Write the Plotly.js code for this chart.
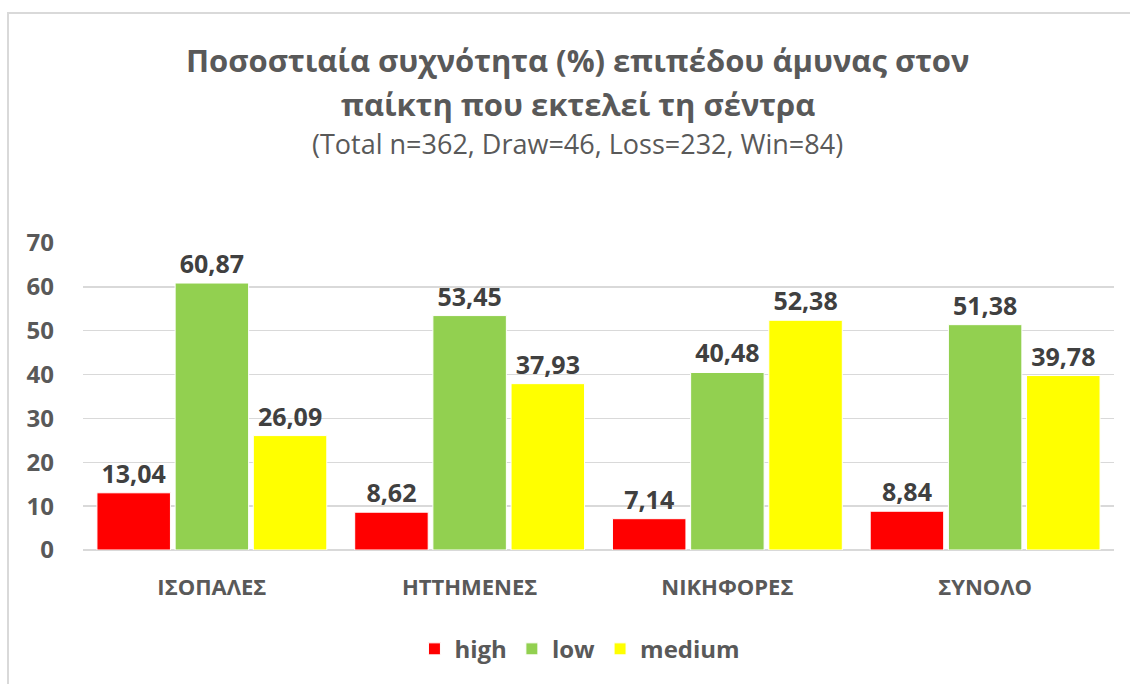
<!DOCTYPE html>
<html>
<head>
<meta charset="utf-8">
<script src="https://cdn.plot.ly/plotly-3.0.1.min.js"></script>
<style>
html,body{margin:0;padding:0;background:#fff;}
#frame{position:absolute;left:7px;top:12px;width:1140px;height:700px;border-top:2px solid #d9d9d9;border-left:2px solid #d9d9d9;box-sizing:border-box;}
#chart{position:absolute;left:0;top:0;width:1130px;height:684px;}
</style>
</head>
<body>
<div id="frame"></div>
<div id="chart"></div>
<script>
const categories = ["ΙΣΟΠΑΛΕΣ", "ΗΤΤΗΜΕΝΕΣ", "ΝΙΚΗΦΟΡΕΣ", "ΣΥΝΟΛΟ"];
const high = [13.04, 8.62, 7.14, 8.84];
const low = [60.87, 53.45, 40.48, 51.38];
const medium = [26.09, 37.93, 52.38, 39.78];
const seriesNames = ["high", "low", "medium"];
const seriesColors = ["#FF0000", "#92D050", "#FFFF00"];
const yTicks = [0, 10, 20, 30, 40, 50, 60, 70];
const titleLine1 = "Ποσοστιαία συχνότητα (%) επιπέδου άμυνας στον";
const titleLine2 = "παίκτη που εκτελεί τη σέντρα";
const subtitle = "(Total n=362, Draw=46, Loss=232, Win=84)";

const FONT = "'Open Sans', sans-serif";
const GRAY = "#595959";

const seriesValues = [high, low, medium];
const traces = seriesValues.map((vals, i) => ({
  type: "bar",
  name: seriesNames[i],
  x: categories,
  y: vals,
  marker: {color: seriesColors[i], line: {color: "#ffffff", width: 1}},
  texttemplate: "%{y:.2f}",
  textposition: "outside",
  cliponaxis: false,
  textfont: {family: FONT, size: 25, color: "#404040", weight: 700},
  hoverinfo: "none"
}));

const layout = {
  width: 1130,
  height: 684,
  paper_bgcolor: "rgba(0,0,0,0)",
  plot_bgcolor: "rgba(0,0,0,0)",
  separators: ",.",
  margin: {l: 83, r: 16, t: 243, b: 131},
  barmode: "group",
  bargap: 0.09,
  bargroupgap: 0.06,
  font: {family: FONT, color: GRAY},
  xaxis: {
    type: "category",
    showgrid: false,
    showline: false,
    ticks: "",
    ticklabelstandoff: 22,
    tickfont: {family: FONT, size: 22, color: GRAY, weight: 700}
  },
  yaxis: {
    range: [0, 70],
    tickvals: yTicks,
    showgrid: true,
    gridcolor: "#d9d9d9",
    gridwidth: 1.5,
    zeroline: true,
    zerolinecolor: "#d9d9d9",
    zerolinewidth: 1.5,
    showline: false,
    ticks: "",
    ticklabelstandoff: 28,
    tickfont: {family: FONT, size: 24, color: GRAY, weight: 700}
  },
  showlegend: true,
  legend: {
    orientation: "h",
    x: 0.482,
    xanchor: "center",
    y: -0.25,
    yanchor: "top",
    font: {family: FONT, size: 24, color: GRAY, weight: 700},
    itemwidth: 30,
    traceorder: "normal"
  },
  annotations: [
    {text: "<b>" + titleLine1 + "</b>", xref: "paper", yref: "paper", x: 0.48, y: (553 - 58) / 310, xanchor: "center", yanchor: "middle", showarrow: false, font: {family: FONT, size: 31, color: GRAY}},
    {text: "<b>" + titleLine2 + "</b>", xref: "paper", yref: "paper", x: 0.48, y: (553 - 103) / 310, xanchor: "center", yanchor: "middle", showarrow: false, font: {family: FONT, size: 31, color: GRAY}},
    {text: subtitle, xref: "paper", yref: "paper", x: 0.48, y: (553 - 143) / 310, xanchor: "center", yanchor: "middle", showarrow: false, font: {family: FONT, size: 27, color: GRAY}}
  ]
};

Plotly.newPlot("chart", traces, layout, {displayModeBar: false, staticPlot: true});
</script>
</body>
</html>
